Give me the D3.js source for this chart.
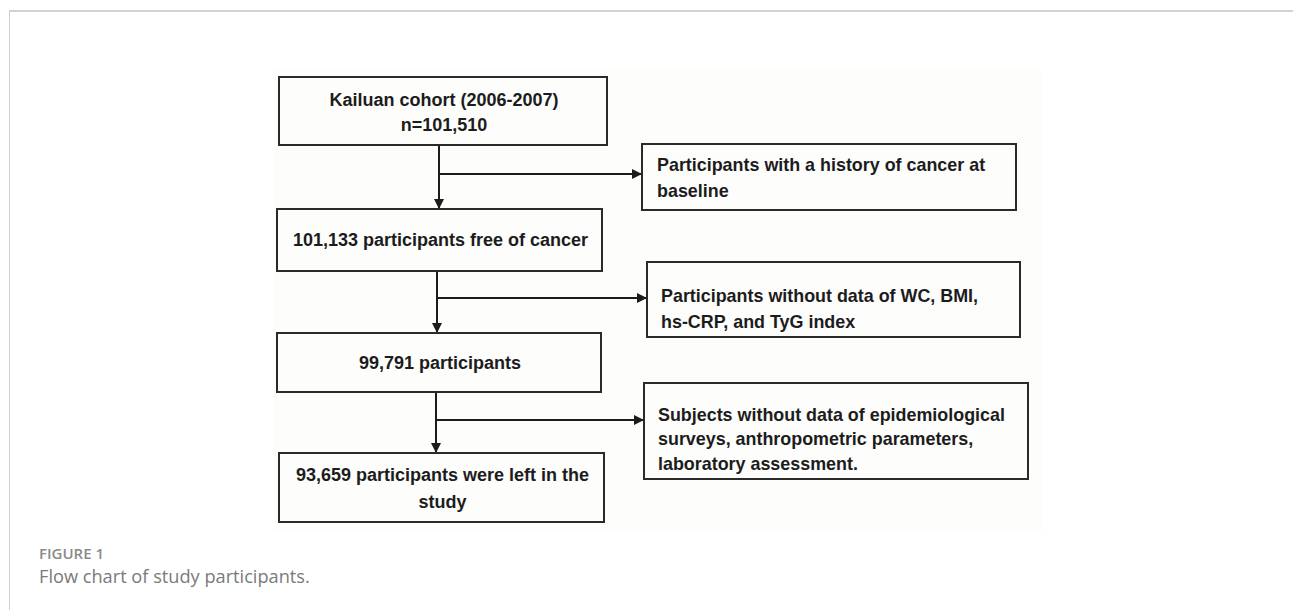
<!DOCTYPE html>
<html><head><meta charset="utf-8">
<script src="https://cdn.jsdelivr.net/npm/d3@7"></script>
<style>
html,body{margin:0;padding:0;background:#fff;}
svg{display:block;}
</style></head>
<body>
<svg id="chart" width="1293" height="610"></svg>
<script>
// ---- data ----
const mainLabels = [
  ["Kailuan cohort (2006-2007)", "n=101,510"],
  ["101,133 participants free of cancer"],
  ["99,791 participants"],
  ["93,659 participants were left in the", "study"]
];
const exclusionLabels = [
  ["Participants with a history of cancer at", "baseline"],
  ["Participants without data of WC, BMI,", "hs-CRP, and TyG index"],
  ["Subjects without data of epidemiological", "surveys, anthropometric parameters,", "laboratory assessment."]
];
const captionTitle = "FIGURE 1";
const captionText = "Flow chart of study participants.";

// ---- layout (pixel geometry, kept apart from data) ----
const mainBoxes = [
  {x0:279, y0:77,  x1:607, y1:145, base:[105.5,131]},
  {x0:277, y0:209, x1:602, y1:271, base:[246]},
  {x0:277, y0:333, x1:601, y1:392, base:[369]},
  {x0:279, y0:453, x1:604, y1:522, base:[481,508]}
];
const exBoxes = [
  {x0:642, y0:144, x1:1016, y1:210, tx:657, base:[171,197]},
  {x0:647, y0:262, x1:1020, y1:337, tx:661, base:[302,328]},
  {x0:644, y0:383, x1:1028, y1:479, tx:658, base:[421,445,470]}
];
const connectors = [
  {x:439, branchY:174},
  {x:437, branchY:298},
  {x:436, branchY:420}
];

const svg = d3.select("#chart");
const ink = "#1c1c1c";

// page frame
svg.append("line").attr("x1",9).attr("x2",1293).attr("y1",11).attr("y2",11)
  .attr("stroke","#d2d2d2").attr("stroke-width",2);
svg.append("line").attr("x1",9.5).attr("x2",9.5).attr("y1",11).attr("y2",610)
  .attr("stroke","#d0d0d0").attr("stroke-width",1);

// image background (very slightly warm white)
svg.append("rect").attr("x",274).attr("y",70).attr("width",768).attr("height",462)
  .attr("fill","#fdfdfc");

// arrow marker
const defs = svg.append("defs");
defs.append("marker").attr("id","arr").attr("viewBox","0 0 10 10")
  .attr("refX",10).attr("refY",5).attr("markerWidth",10).attr("markerHeight",10)
  .attr("markerUnits","userSpaceOnUse").attr("orient","auto")
  .append("path").attr("d","M0,0 L10,5 L0,10 Z").attr("fill",ink);

const font = "'Liberation Sans', Arial, sans-serif";

// connectors
connectors.forEach((c,i)=>{
  const from = mainBoxes[i], to = mainBoxes[i+1], ex = exBoxes[i];
  svg.append("line").attr("x1",c.x).attr("x2",c.x).attr("y1",from.y1).attr("y2",to.y0)
    .attr("stroke",ink).attr("stroke-width",2).attr("marker-end","url(#arr)");
  svg.append("line").attr("x1",c.x).attr("x2",ex.x0).attr("y1",c.branchY).attr("y2",c.branchY)
    .attr("stroke",ink).attr("stroke-width",2).attr("marker-end","url(#arr)");
});

// main boxes
const mg = svg.selectAll("g.main").data(mainLabels).join("g").attr("class","main");
mg.append("rect")
  .attr("x",(d,i)=>mainBoxes[i].x0).attr("y",(d,i)=>mainBoxes[i].y0)
  .attr("width",(d,i)=>mainBoxes[i].x1-mainBoxes[i].x0)
  .attr("height",(d,i)=>mainBoxes[i].y1-mainBoxes[i].y0)
  .attr("fill","none").attr("stroke","#2a2a2a").attr("stroke-width",2);
mg.each(function(lines,i){
  const b = mainBoxes[i];
  d3.select(this).selectAll("text").data(lines).join("text")
    .attr("x",(b.x0+b.x1)/2+1).attr("y",(d,j)=>b.base[j])
    .attr("text-anchor","middle").attr("font-family",font).attr("font-weight","bold")
    .attr("font-size",18).attr("fill",ink).text(d=>d);
});

// exclusion boxes
const eg = svg.selectAll("g.ex").data(exclusionLabels).join("g").attr("class","ex");
eg.append("rect")
  .attr("x",(d,i)=>exBoxes[i].x0).attr("y",(d,i)=>exBoxes[i].y0)
  .attr("width",(d,i)=>exBoxes[i].x1-exBoxes[i].x0)
  .attr("height",(d,i)=>exBoxes[i].y1-exBoxes[i].y0)
  .attr("fill","none").attr("stroke","#2a2a2a").attr("stroke-width",2);
eg.each(function(lines,i){
  const b = exBoxes[i];
  d3.select(this).selectAll("text").data(lines).join("text")
    .attr("x",b.tx).attr("y",(d,j)=>b.base[j])
    .attr("font-family",font).attr("font-weight","bold")
    .attr("font-size",17.9).attr("fill",ink).text(d=>d);
});

// caption
svg.append("text").attr("x",39).attr("y",559).attr("font-family","'Open Sans', sans-serif")
  .attr("font-weight",600).attr("font-size",15).attr("fill","#8a8a8a").text(captionTitle);
svg.append("text").attr("x",39).attr("y",583).attr("font-family","'Open Sans', sans-serif")
  .attr("font-weight",400).attr("font-size",18.2).attr("fill","#7a7a7a").text(captionText);
</script>
</body></html>
